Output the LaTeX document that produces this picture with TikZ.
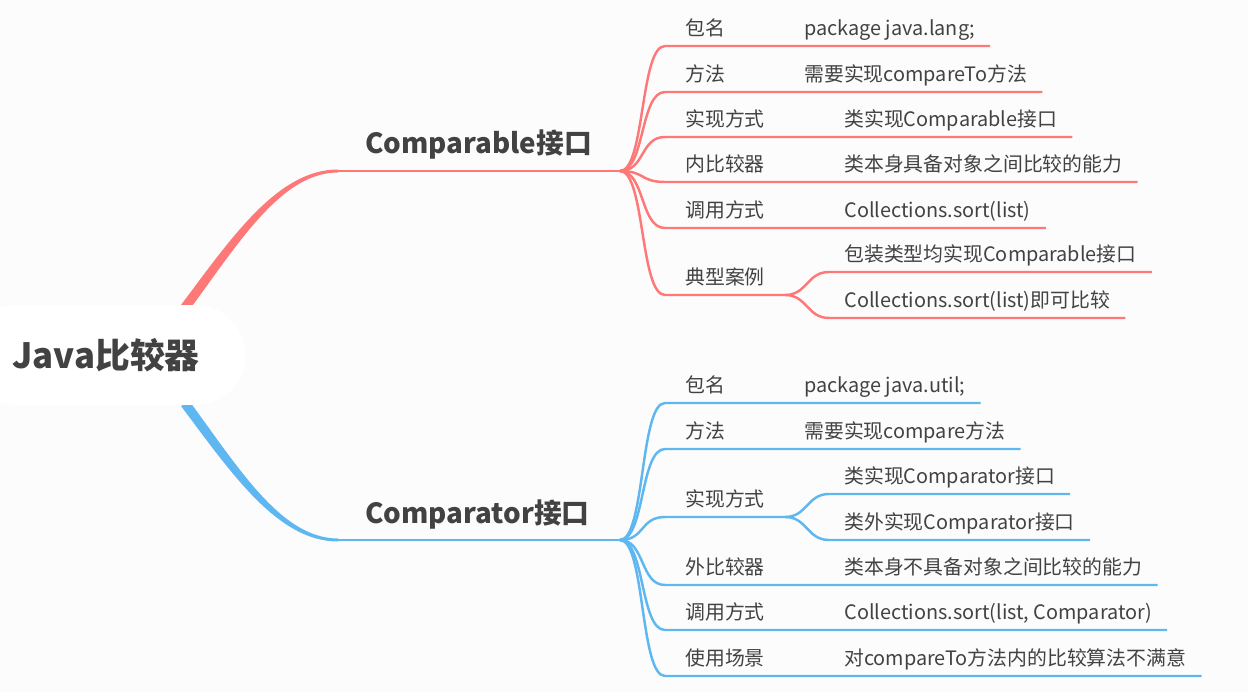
\documentclass[tikz,border=0pt]{standalone}
\usepackage{fontspec}
\setmainfont{Noto Sans CJK SC}
\definecolor{comparablered}{RGB}{255,120,120}
\definecolor{comparatorblue}{RGB}{94,183,240}
\definecolor{inktext}{RGB}{66,66,66}
\definecolor{paper}{RGB}{252,252,252}
\tikzset{
  keytext/.style={anchor=south west,inner xsep=0.4cm,inner ysep=0pt,text height=0.3cm,text depth=0.2cm,text=inktext,font=\fontsize{11.3pt}{13pt}\selectfont},
  valtext/.style={keytext,inner xsep=0.3cm},
  topictext/.style={anchor=base west,inner sep=0pt,text=inktext,font=\fontsize{15.8pt}{18pt}\selectfont\bfseries},
  rootbox/.style={fill=white,rounded corners=1cm,minimum height=2cm,inner xsep=0.92cm,text=inktext,font=\fontsize{19.8pt}{22pt}\selectfont\bfseries},
  redline/.style={draw=comparablered,line width=1.4pt},
  blueline/.style={draw=comparatorblue,line width=1.4pt},
}
\begin{document}
\begin{tikzpicture}[x=0.02cm,y=-0.02cm]
\useasboundingbox (0,0) rectangle (1248,692);
\clip (0,0) rectangle (1248,692);
\fill[paper] (0,0) rectangle (1248,692);

% Comparable
\coordinate (ra) at (338,171);
\coordinate (rf) at (620,171);
\fill[comparablered] (181,305) .. controls (232,237) and (278,169.5) .. (338,169.5) -- (ra) -- (338,172.5) .. controls (282,172.5) and (240,241) .. (190,309) -- cycle;
\draw[comparablered,line width=1.7pt] (ra) -- (rf);
\node[topictext] (t1) at (365,154) {Comparable接口};

\node[keytext] (k1) at (665,46) {包名};
\node[valtext] (v1) at (789,46) {package java.lang;};
\draw[redline] (rf) .. controls +(25,0) and +(-25,0) .. (k1.south west) -- (v1.south east);
\node[keytext] (k2) at (665,92) {方法};
\node[valtext] (v2) at (789,92) {需要实现compareTo方法};
\draw[redline] (rf) .. controls +(25,0) and +(-25,0) .. (k2.south west) -- (v2.south east);
\node[keytext] (k3) at (665,137) {实现方式};
\node[valtext] (v3) at (829,137) {类实现Comparable接口};
\draw[redline] (rf) .. controls +(25,0) and +(-25,0) .. (k3.south west) -- (v3.south east);
\node[keytext] (k4) at (665,182) {内比较器};
\node[valtext] (v4) at (829,182) {类本身具备对象之间比较的能力};
\draw[redline] (rf) .. controls +(25,0) and +(-25,0) .. (k4.south west) -- (v4.south east);
\node[keytext] (k5) at (665,228) {调用方式};
\node[valtext] (v5) at (829,228) {Collections.sort(list)};
\draw[redline] (rf) .. controls +(25,0) and +(-25,0) .. (k5.south west) -- (v5.south east);
\node[keytext] (k6) at (665,295) {典型案例};
\draw[redline] (rf) .. controls +(25,0) and +(-25,0) .. (k6.south west) -- (k6.south east);
\node[valtext] (v6a) at (829,272) {包装类型均实现Comparable接口};
\node[valtext] (v6b) at (829,318) {Collections.sort(list)即可比较};
\draw[redline] (k6.south east) .. controls +(22,0) and +(-22,0) .. (v6a.south west) -- (v6a.south east);
\draw[redline] (k6.south east) .. controls +(22,0) and +(-22,0) .. (v6b.south west) -- (v6b.south east);

% Comparator
\coordinate (ba) at (338,540);
\coordinate (bf) at (620,540);
\fill[comparatorblue] (181,406) .. controls (232,474) and (278,541.5) .. (338,541.5) -- (ba) -- (338,538.5) .. controls (282,538.5) and (240,470) .. (190,402) -- cycle;
\draw[comparatorblue,line width=1.7pt] (ba) -- (bf);
\node[topictext] (t2) at (365,523) {Comparator接口};

\node[keytext] (c1) at (665,403) {包名};
\node[valtext] (w1) at (789,403) {package java.util;};
\draw[blueline] (bf) .. controls +(25,0) and +(-25,0) .. (c1.south west) -- (w1.south east);
\node[keytext] (c2) at (665,449) {方法};
\node[valtext] (w2) at (789,449) {需要实现compare方法};
\draw[blueline] (bf) .. controls +(25,0) and +(-25,0) .. (c2.south west) -- (w2.south east);
\node[keytext] (c3) at (665,517) {实现方式};
\draw[blueline] (bf) .. controls +(25,0) and +(-25,0) .. (c3.south west) -- (c3.south east);
\node[valtext] (w3a) at (829,494) {类实现Comparator接口};
\node[valtext] (w3b) at (829,540) {类外实现Comparator接口};
\draw[blueline] (c3.south east) .. controls +(22,0) and +(-22,0) .. (w3a.south west) -- (w3a.south east);
\draw[blueline] (c3.south east) .. controls +(22,0) and +(-22,0) .. (w3b.south west) -- (w3b.south east);
\node[keytext] (c4) at (665,585) {外比较器};
\node[valtext] (w4) at (829,585) {类本身不具备对象之间比较的能力};
\draw[blueline] (bf) .. controls +(25,0) and +(-25,0) .. (c4.south west) -- (w4.south east);
\node[keytext] (c5) at (665,630) {调用方式};
\node[valtext] (w5) at (829,630) {Collections.sort(list, Comparator)};
\draw[blueline] (bf) .. controls +(25,0) and +(-25,0) .. (c5.south west) -- (w5.south east);
\node[keytext] (c6) at (665,676) {使用场景};
\node[valtext] (w6) at (829,676) {对compareTo方法内的比较算法不满意};
\draw[blueline] (bf) .. controls +(25,0) and +(-25,0) .. (c6.south west) -- (w6.south east);

% root
\node[rootbox] (root) at (106,355) {Java比较器};
\end{tikzpicture}
\end{document}
